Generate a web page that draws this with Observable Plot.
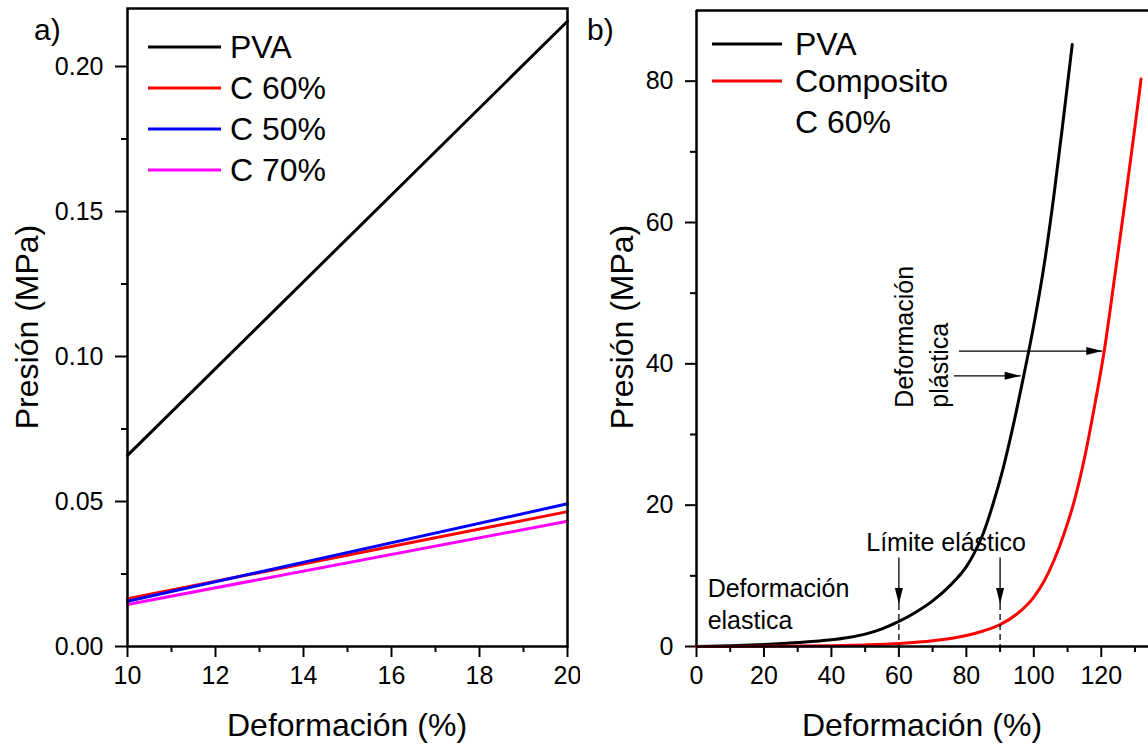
<!DOCTYPE html>
<html><head><meta charset="utf-8">
<script src="https://cdn.jsdelivr.net/npm/d3@7"></script>
<script src="https://cdn.jsdelivr.net/npm/@observablehq/plot@0.6"></script>
<style>
body{margin:0;background:#fff;}
#wrap{position:relative;width:1148px;height:746px;overflow:hidden;background:#fff;}
#wrap > svg{position:absolute;top:0;}
</style></head><body><div id="wrap"></div>
<script>
// ---------- Panel a data ----------
const aX = [10, 20];
const aPVA = [0.0659, 0.2156];
const aC60 = [0.0165, 0.0465];
const aC50 = [0.0156, 0.0492];
const aC70 = [0.0145, 0.0432];
const aNames = ["PVA", "C 60%", "C 50%", "C 70%"];
const aColors = ["#000000", "#ff0000", "#0000ff", "#ff00ff"];
const aXTicks = [10, 12, 14, 16, 18, 20];
const aXMinor = [11, 13, 15, 17, 19];
const aYTicks = [0, 0.05, 0.10, 0.15, 0.20];
const aYMinor = [0.025, 0.075, 0.125, 0.175];

// ---------- Panel b data ----------
const bPVAx = [0, 10, 20, 30, 40, 45, 50, 55, 60, 65, 70, 75, 80, 82, 85, 88, 91, 94, 97, 100, 103, 106, 109, 111.4];
const bPVAy = [0, 0.1, 0.28, 0.55, 0.95, 1.28, 1.75, 2.5, 3.55, 4.85, 6.45, 8.55, 11.3, 12.9, 16.0, 20.3, 25.4, 31.5, 38.3, 45.5, 53.8, 64.0, 75.6, 85.2];
const bC60x = [0, 20, 40, 50, 60, 70, 80, 85, 90, 95, 100, 103, 106, 109, 112, 115, 118, 121, 124, 127, 130, 131.8];
const bC60y = [0, 0.02, 0.1, 0.22, 0.42, 0.8, 1.55, 2.2, 3.1, 4.6, 7.0, 9.2, 12.2, 16.0, 20.6, 26.6, 34.0, 42.2, 52.4, 62.8, 73.6, 80.3];
const bNames = ["PVA", "Composito C 60%"];
const bColors = ["#000000", "#ff0000"];
const bXTicks = [0, 20, 40, 60, 80, 100, 120];
const bXMinor = [10, 30, 50, 70, 90, 110, 130];
const bYTicks = [0, 20, 40, 60, 80];
const bYMinor = [10, 30, 50, 70];

// annotations (panel b)
const limitArrowX = [60, 90];
const limitArrowTop = 12.6, limitArrowTip = 6.0;
const plastArrows = [
  {x1: 77.8, x2: 120.3, y: 41.8},
  {x1: 76.3, x2: 96.1, y: 38.3}
];

const FONT = '"Liberation Sans", Arial, Helvetica, sans-serif';

const rowsA = aNames.flatMap((n, k) => aX.map((x, i) => ({serie: n, x, y: [aPVA, aC60, aC50, aC70][k][i]})));
const rowsB = [
  ...bPVAx.map((x, i) => ({serie: bNames[0], x, y: bPVAy[i]})),
  ...bC60x.map((x, i) => ({serie: bNames[1], x, y: bC60y[i]}))
];

const arrowHead = {draw(ctx) { ctx.moveTo(0, 0); ctx.lineTo(-4, 16); ctx.lineTo(4, 16); ctx.closePath(); }};

const plotA = Plot.plot({
  width: 580, height: 746,
  marginLeft: 127, marginRight: 13, marginTop: 8, marginBottom: 100,
  style: {fontFamily: FONT, fontSize: "25px", background: "transparent", color: "#000"},
  x: {domain: [10, 20]},
  y: {domain: [0, 0.22]},
  color: {domain: aNames, range: aColors},
  marks: [
    Plot.axisX({ticks: aXTicks, tickSize: 11, tickPadding: 9, strokeWidth: 2, label: null, fontSize: 25}),
    Plot.axisX({ticks: aXMinor, tickSize: 6, strokeWidth: 2, text: null, label: null}),
    Plot.axisY({ticks: aYTicks, tickFormat: d3.format(".2f"), tickSize: 12, tickPadding: 12, strokeWidth: 2, label: null, fontSize: 25}),
    Plot.axisY({ticks: aYMinor, tickSize: 6, strokeWidth: 2, text: null, label: null}),
    Plot.line(rowsA, {x: "x", y: "y", z: "serie", stroke: "serie", strokeWidth: 3}),
    Plot.frame({strokeWidth: 2.5, stroke: "#000"})
  ]
});

const plotB = Plot.plot({
  width: 568, height: 746,
  marginLeft: 116, marginRight: 0, marginTop: 10, marginBottom: 100,
  style: {fontFamily: FONT, fontSize: "25px", background: "transparent", color: "#000"},
  x: {domain: [0, 134]},
  y: {domain: [0, 90]},
  color: {domain: bNames, range: bColors},
  marks: [
    Plot.axisX({ticks: bXTicks, tickSize: 11, tickPadding: 9, strokeWidth: 2, label: null, fontSize: 25}),
    Plot.axisX({ticks: bXMinor, tickSize: 6, strokeWidth: 2, text: null, label: null}),
    Plot.axisY({ticks: bYTicks, tickSize: 11, tickPadding: 12, strokeWidth: 2, label: null, fontSize: 25}),
    Plot.axisY({ticks: bYMinor, tickSize: 6, strokeWidth: 2, text: null, label: null}),
    Plot.line(rowsB, {x: "x", y: "y", z: "serie", stroke: "serie", strokeWidth: 3, curve: "monotone-x"}),
    // Límite elástico arrows
    Plot.link(limitArrowX, {x1: d => d, x2: d => d, y1: limitArrowTop, y2: limitArrowTip, stroke: "#000", strokeWidth: 1.3}),
    Plot.link(limitArrowX, {x1: d => d, x2: d => d, y1: limitArrowTip, y2: 0, stroke: "#000", strokeWidth: 1.3, strokeDasharray: "6,4"}),
    Plot.dot(limitArrowX, {x: d => d, y: limitArrowTip, symbol: arrowHead, rotate: 180, fill: "#000", stroke: "none", r: 5}),
    // plastic arrows
    Plot.link(plastArrows, {x1: "x1", x2: "x2", y1: "y", y2: "y", stroke: "#000", strokeWidth: 1.3}),
    Plot.dot(plastArrows, {x: "x2", y: "y", symbol: arrowHead, rotate: 90, fill: "#000", stroke: "none", r: 5}),
    // texts
    Plot.text(["Límite elástico"], {x: 74, y: 14.7, text: d => d, fontSize: 25, fill: "#000", textAnchor: "middle"}),
    Plot.text(["Deformación", "elastica"], {x: 3.3, y: (d, i) => [8.2, 3.6][i], text: d => d, fontSize: 25, fill: "#000", textAnchor: "start"}),
    Plot.text(["Deformación", "plástica"], {x: (d, i) => [61.9, 72.3][i], y: 33.8, text: d => d, fontSize: 25, fill: "#000", textAnchor: "start", rotate: -90}),
    Plot.ruleX([0], {strokeWidth: 2.5, stroke: "#000"}),
    Plot.ruleY([0], {strokeWidth: 2.5, stroke: "#000"}),
    Plot.ruleY([90], {strokeWidth: 2.5, stroke: "#000"})
  ]
});

const wrap = document.getElementById("wrap");
plotA.style.left = "0px";
plotB.style.left = "580px";
wrap.appendChild(plotA);
wrap.appendChild(plotB);

// overlay: panel labels, axis titles and legends
const ov = d3.select(wrap).append("svg")
  .attr("width", 1148).attr("height", 746)
  .style("position", "absolute").style("left", "0px").style("top", "0px")
  .attr("font-family", FONT).attr("fill", "#000");

ov.append("text").attr("x", 34).attr("y", 40).attr("font-size", 30).text("a)");
ov.append("text").attr("x", 587).attr("y", 40).attr("font-size", 30).text("b)");

ov.append("text").attr("transform", "translate(38,327) rotate(-90)").attr("text-anchor", "middle").attr("font-size", 32).text("Presión (MPa)");
ov.append("text").attr("transform", "translate(633,327) rotate(-90)").attr("text-anchor", "middle").attr("font-size", 32).text("Presión (MPa)");
ov.append("text").attr("x", 347).attr("y", 736).attr("text-anchor", "middle").attr("font-size", 32).text("Deformación (%)");
ov.append("text").attr("x", 922).attr("y", 736).attr("text-anchor", "middle").attr("font-size", 32).text("Deformación (%)");

// legend a
const legA = ov.append("g");
aNames.forEach((n, i) => {
  const y = 47 + i * 41;
  legA.append("line").attr("x1", 148).attr("x2", 221).attr("y1", y).attr("y2", y).attr("stroke", aColors[i]).attr("stroke-width", 3);
  legA.append("text").attr("x", 230).attr("y", y).attr("dy", "0.35em").attr("font-size", 32).text(n);
});
// legend b
const legB = ov.append("g");
[["PVA"], ["Composito", "C 60%"]].forEach((lines, i) => {
  const y = [44, 81][i];
  legB.append("line").attr("x1", 712).attr("x2", 782).attr("y1", y).attr("y2", y).attr("stroke", bColors[i]).attr("stroke-width", 3);
  lines.forEach((t, j) => legB.append("text").attr("x", 795).attr("y", y + j * 41).attr("dy", "0.35em").attr("font-size", 32).text(t));
});
</script>
</body></html>
